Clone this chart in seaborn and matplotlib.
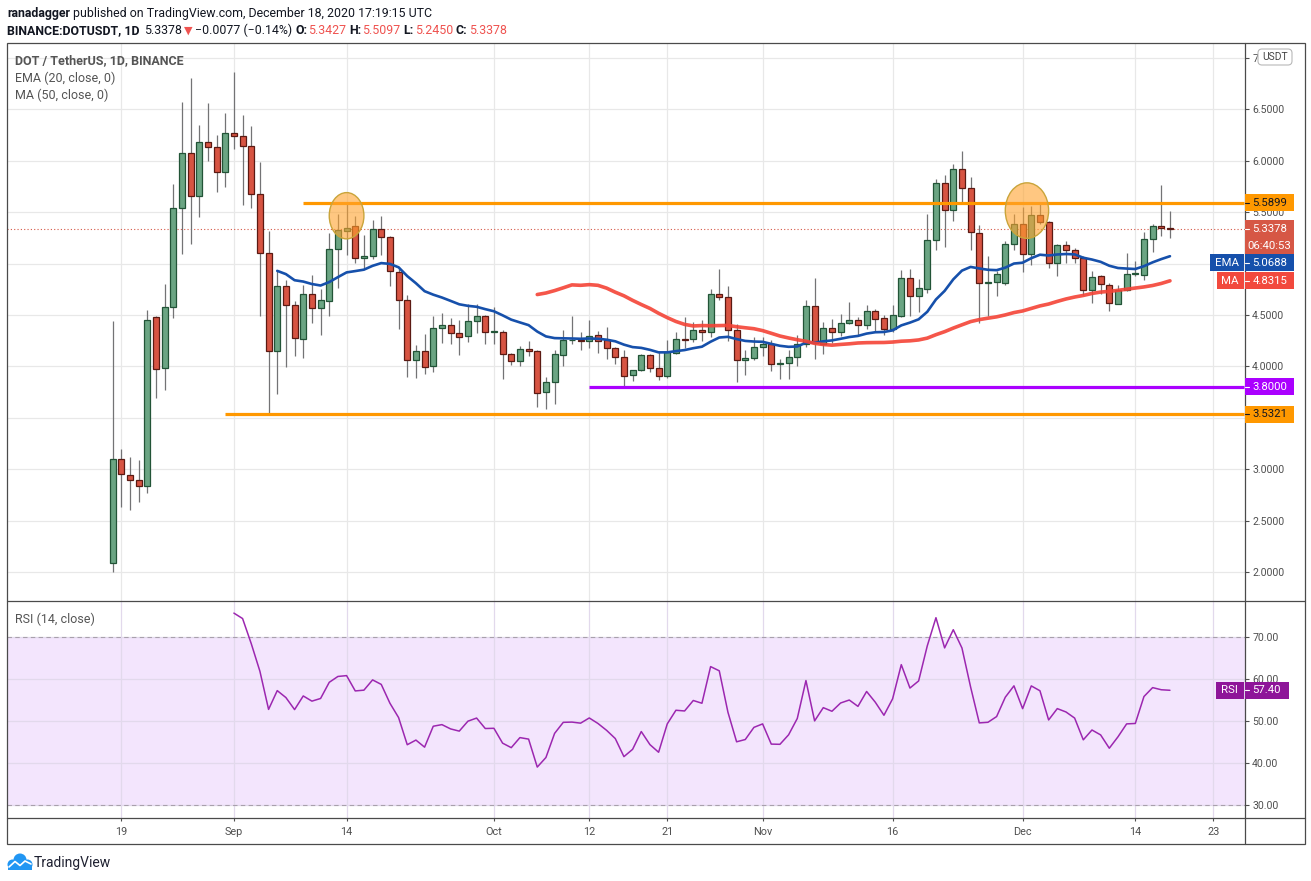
import matplotlib
matplotlib.use("Agg")
import matplotlib.pyplot as plt
from matplotlib.patches import Rectangle, Ellipse, FancyBboxPatch, Circle
import seaborn as sns
import pandas as pd
import numpy as np

# ---- data (DOT/USDT daily, Binance) ----
dates = pd.date_range("2020-08-18", "2020-12-18", freq="D")

opens = [2.086, 3.098, 2.94, 2.89, 2.835, 4.478, 3.982, 4.575, 5.538, 6.072,
         5.654, 6.179, 6.131, 5.888, 6.267, 6.238, 6.14, 5.674, 5.10, 4.147,
         4.779, 4.595, 4.264, 4.702, 4.572, 4.637, 5.138, 5.318, 5.363, 5.05,
         5.07, 5.334, 5.256, 4.914, 4.65, 4.064, 4.151, 4.005, 4.376, 4.406,
         4.327, 4.298, 4.445, 4.494, 4.337, 4.337, 4.122, 4.054, 4.171, 4.151,
         3.748, 3.851, 4.107, 4.252, 4.255, 4.243, 4.307, 4.252, 4.175, 4.094,
         3.913, 3.961, 4.107, 3.98, 3.903, 4.126, 4.262, 4.262, 4.35, 4.33,
         4.699, 4.67, 4.35, 4.058, 4.078, 4.184, 4.215, 4.02, 4.036, 4.095,
         4.222, 4.584, 4.222, 4.369, 4.336, 4.418, 4.447, 4.398, 4.535, 4.467,
         4.359, 4.493, 4.858, 4.682, 4.75, 5.23, 5.788, 5.524, 5.915, 5.739,
         5.299, 4.815, 4.818, 4.812, 5.192, 5.38, 5.088, 5.468, 5.406, 5.006,
         5.182, 5.136, 5.055, 4.747, 4.877, 4.795, 4.607, 4.747, 4.90, 4.893,
         5.24, 5.364, 5.3427]
highs = [4.44, 3.198, 3.114, 3.09, 4.549, 4.49, 4.802, 5.774, 6.571, 6.80,
         6.348, 6.562, 6.25, 6.464, 6.863, 6.445, 6.338, 5.988, 5.317, 4.938,
         4.84, 4.64, 4.792, 4.89, 4.75, 5.295, 5.484, 5.581, 5.458, 5.278,
         5.425, 5.458, 5.27, 4.969, 4.692, 4.204, 4.318, 4.487, 4.523, 4.474,
         4.448, 4.611, 4.611, 4.503, 4.578, 4.357, 4.13, 4.197, 4.243, 4.16,
         3.90, 4.159, 4.353, 4.489, 4.33, 4.45, 4.343, 4.382, 4.184, 4.159,
         3.961, 4.117, 4.117, 4.142, 4.256, 4.333, 4.479, 4.43, 4.45, 4.748,
         4.945, 4.78, 4.411, 4.159, 4.282, 4.282, 4.261, 4.069, 4.157, 4.303,
         4.646, 4.861, 4.431, 4.457, 4.509, 4.623, 4.476, 4.597, 4.558, 4.499,
         4.597, 4.94, 4.95, 4.852, 5.478, 5.821, 5.86, 5.971, 6.095, 5.84,
         5.377, 5.078, 4.925, 5.218, 5.484, 5.549, 5.558, 5.575, 5.412, 5.192,
         5.218, 5.149, 5.071, 4.932, 4.893, 4.812, 4.795, 5.104, 5.023, 5.305,
         5.38, 5.763, 5.5097]
lows = [2.00, 2.637, 2.60, 2.676, 2.773, 3.697, 3.772, 4.475, 5.094, 5.194,
        5.457, 6.001, 5.70, 5.748, 6.118, 5.573, 5.544, 4.494, 3.535, 3.729,
        3.998, 4.105, 4.08, 4.426, 4.308, 4.49, 4.764, 5.083, 5.008, 4.943,
        5.04, 5.083, 4.78, 4.363, 3.894, 3.884, 3.927, 3.95, 4.226, 4.217,
        4.109, 4.236, 4.324, 4.217, 4.217, 3.875, 4.011, 4.002, 4.10, 3.60,
        3.589, 3.631, 4.006, 4.22, 4.162, 4.18, 4.126, 4.071, 4.019, 3.796,
        3.854, 3.955, 3.948, 3.864, 3.887, 4.117, 4.181, 4.233, 4.249, 4.282,
        4.644, 4.249, 3.845, 3.913, 4.058, 4.104, 3.954, 3.876, 3.876, 4.003,
        4.186, 4.072, 4.124, 4.232, 4.297, 4.414, 4.303, 4.365, 4.343, 4.303,
        4.33, 4.483, 4.493, 4.532, 4.711, 5.129, 5.165, 5.413, 5.602, 5.129,
        4.424, 4.49, 4.682, 4.79, 5.136, 4.919, 4.99, 5.38, 4.958, 4.877,
        5.006, 5.006, 4.698, 4.617, 4.708, 4.536, 4.604, 4.731, 4.877, 4.844,
        5.11, 5.266, 5.245]
closes = [3.098, 2.95, 2.893, 2.835, 4.449, 3.972, 4.575, 5.538, 6.072, 5.654,
          6.179, 6.131, 5.888, 6.267, 6.238, 6.14, 5.674, 5.10, 4.147, 4.779,
          4.595, 4.274, 4.702, 4.572, 4.65, 5.138, 5.324, 5.35, 5.05, 5.07,
          5.334, 5.256, 4.923, 4.65, 4.064, 4.151, 3.995, 4.376, 4.406, 4.327,
          4.288, 4.445, 4.494, 4.337, 4.34, 4.122, 4.054, 4.171, 4.151, 3.744,
          3.845, 4.117, 4.252, 4.255, 4.243, 4.298, 4.243, 4.175, 4.094, 3.903,
          3.961, 4.107, 3.98, 3.903, 4.136, 4.262, 4.256, 4.35, 4.33, 4.699,
          4.67, 4.35, 4.058, 4.078, 4.184, 4.214, 4.026, 4.024, 4.095, 4.222,
          4.584, 4.232, 4.369, 4.336, 4.418, 4.447, 4.398, 4.535, 4.457, 4.359,
          4.499, 4.858, 4.682, 4.76, 5.23, 5.788, 5.524, 5.915, 5.739, 5.308,
          4.809, 4.818, 4.90, 5.192, 5.38, 5.088, 5.468, 5.406, 5.006, 5.182,
          5.136, 5.055, 4.747, 4.873, 4.805, 4.617, 4.747, 4.90, 4.905, 5.24,
          5.364, 5.3427, 5.3378]

tick_dates = ["2020-08-19", "2020-09-01", "2020-09-14", "2020-10-01", "2020-10-12",
              "2020-10-21", "2020-11-01", "2020-11-16", "2020-12-01", "2020-12-14",
              "2020-12-23"]
tick_labels = ["19", "Sep", "14", "Oct", "12", "21", "Nov", "16", "Dec", "14", "23"]

# horizontal levels drawn by the author: (price, start date, colour)
levels = [(5.5899, "2020-09-09", "#FF9800"),
          (3.8000, "2020-10-12", "#AA00FF"),
          (3.5321, "2020-08-31", "#FF9800")]
level_text = ["#131722", "white", "#131722"]
# highlighted tops: (centre date, centre price, width in days, height in price)
highlights = [("2020-09-14", 5.465, 4.0, 0.45), ("2020-12-01 12:00", 5.515, 5.0, 0.54)]

ema_last, ma_last, rsi_last = 5.0688, 4.8315, 57.40
countdown = "06:40:53"
# price-scale labels hidden (or cut) by the tags in the reference
hidden_ticks = {5.0: "", 3.5: "", 7.0: "7"}

# ---- colours ----
GREEN, GREEN_EDGE = "#6BA583", "#225437"
RED, RED_EDGE = "#D75442", "#5B1A13"
WICK = "#737375"
EMA_C, MA_C, RSI_C = "#1650AB", "#F44336", "#9C27B0"
TXT = "#4F4F4F"

sns.set_theme(style="white")
plt.rcParams["font.family"] = ["Roboto", "DejaVu Sans"]

df = pd.DataFrame({"date": dates, "open": opens, "high": highs, "low": lows, "close": closes})
df["x"] = (df["date"] - dates[0]).dt.days


def xpos(d):
    return (pd.Timestamp(d) - dates[0]) / pd.Timedelta(days=1)


# indicators as defined in the chart legend
s = df["close"]
seed = s.copy()
seed.iloc[:19] = np.nan
seed.iloc[19] = s.iloc[:20].mean()
df["ema"] = seed.ewm(span=20, adjust=False).mean()
df["ma"] = s.rolling(50).mean()
delta = s.diff()
gain, loss = delta.clip(lower=0), -delta.clip(upper=0)
g, l = gain.copy(), loss.copy()
g.iloc[:14] = np.nan
l.iloc[:14] = np.nan
g.iloc[14] = gain.iloc[1:15].mean()
l.iloc[14] = loss.iloc[1:15].mean()
avg_g = g.ewm(alpha=1 / 14, adjust=False).mean()
avg_l = l.ewm(alpha=1 / 14, adjust=False).mean()
df["rsi"] = 100 - 100 / (1 + avg_g / avg_l)

W, H = 1311, 881
fig = plt.figure(figsize=(W / 100, H / 100), dpi=100)
ax = fig.add_axes([7 / W, 1 - 601 / H, 1237.5 / W, 558 / H])
ax2 = fig.add_axes([7 / W, 1 - 817.5 / H, 1237.5 / W, 216.5 / H])
ov = fig.add_axes([0, 0, 1, 1], zorder=10)
ov.set_xlim(0, W)
ov.set_ylim(H, 0)
ov.axis("off")
ov.set_facecolor("none")

XMIN, XMAX = -12.18, 130.6
tick_x = [xpos(d) for d in tick_dates]


def price_fmt(v, pos):
    key = round(v, 2)
    if key in hidden_ticks:
        return hidden_ticks[key]
    return "%.4f" % v


# ---- price pane ----
ax.set_xlim(XMIN, XMAX)
ax.set_ylim(1.718, 7.145)
ax.set_axisbelow(True)
ax.set_xticks(tick_x)
ax.set_yticks(np.arange(2.0, 7.01, 0.5))
ax.yaxis.tick_right()
ax.yaxis.set_major_formatter(matplotlib.ticker.FuncFormatter(price_fmt))
ax.tick_params(axis="x", length=0, labelbottom=False)
ax.tick_params(axis="y", right=True, length=3, width=0.8, color=TXT, pad=2.5,
               labelsize=7.6, labelcolor=TXT)
ax.grid(True, color="#E8E8E8", lw=0.9)
for sp in ax.spines.values():
    sp.set_visible(False)

up = df["close"] >= df["open"]
lo = np.minimum(df["open"], df["close"])
hgt = np.maximum((df["close"] - df["open"]).abs(), 0.008)
ax.vlines(df["x"], df["low"], df["high"], color=WICK, lw=0.9, zorder=2)
ax.bar(df["x"][up], hgt[up], bottom=lo[up], width=0.7, color=GREEN,
       edgecolor=GREEN_EDGE, linewidth=0.9, zorder=3)
ax.bar(df["x"][~up], hgt[~up], bottom=lo[~up], width=0.7, color=RED,
       edgecolor=RED_EDGE, linewidth=0.9, zorder=3)

sns.lineplot(data=df.dropna(subset=["ema"]), x="x", y="ema", ax=ax, color=EMA_C,
             linewidth=1.9, zorder=4)
sns.lineplot(data=df.dropna(subset=["ma"]), x="x", y="ma", ax=ax, color=MA_C,
             linewidth=2.6, alpha=0.9, zorder=4)

for (p, start, col) in levels:
    ax.hlines(p, xpos(start), XMAX, color=col, lw=2.3, zorder=5)
ax.axhline(closes[-1], color="#D65745", lw=0.8, ls=(0, (1, 2)), zorder=1.5)

for (d, p, w, h) in highlights:
    ax.add_patch(Ellipse((xpos(d), p), w, h, facecolor=(1.0, 0.64, 0.18, 0.6),
                         edgecolor="#C9A43A", lw=1.0, zorder=6))
ax.set_xlabel("")
ax.set_ylabel("")

# ---- RSI pane ----
ax2.set_xlim(XMIN, XMAX)
ax2.set_ylim(27.1, 78.64)
ax2.set_axisbelow(True)
ax2.set_xticks(tick_x)
ax2.set_xticklabels(tick_labels)
ax2.set_yticks([30, 40, 50, 60, 70])
ax2.yaxis.tick_right()
ax2.yaxis.set_major_formatter(matplotlib.ticker.FormatStrFormatter("%.2f"))
ax2.tick_params(axis="y", right=True, length=3, width=0.8, color=TXT, pad=2.5,
                labelsize=7.6, labelcolor=TXT)
ax2.tick_params(axis="x", bottom=True, length=2.5, width=0.8, color=TXT, pad=4.5,
                labelsize=7.8, labelcolor=TXT)
ax2.grid(True, color="#E2D9EC", lw=0.9)
for sp in ax2.spines.values():
    sp.set_visible(False)
ax2.axhspan(30, 70, color="#F3E5FD", zorder=0.3, lw=0)
for lv in (30, 70):
    ax2.axhline(lv, color="#A8A0AC", lw=0.8, ls=(0, (4, 3)), zorder=1)
sns.lineplot(data=df.dropna(subset=["rsi"]), x="x", y="rsi", ax=ax2, color=RSI_C,
             linewidth=1.1, zorder=3)
ax2.set_xlabel("")
ax2.set_ylabel("")

# ---- frame ----
FR = "#4A4A4A"
ov.add_patch(Rectangle((7, 43), 1298, 801, fill=False, ec=FR, lw=0.9))
ov.plot([1244.5, 1244.5], [43, 844], color=FR, lw=0.9)
ov.plot([7, 1305], [601, 601], color=FR, lw=0.9)
ov.plot([7, 1305], [817.5, 817.5], color=FR, lw=0.9)


def py(a, v):
    return H - a.transData.transform((0, v))[1]


def tag(y, text, fc, tc="white", x0=1245, x1=1294, h=17, dash=True, center=False):
    ov.add_patch(Rectangle((x0, y - h / 2), x1 - x0, h, fc=fc, ec="none", zorder=5))
    if dash:
        ov.plot([x0, x0 + 4], [y, y], color=tc, lw=0.8, zorder=6)
    if center:
        ov.text((x0 + x1) / 2, y, text, color=tc, va="center", ha="center",
                fontsize=8.2, zorder=6)
    else:
        ov.text(x0 + 7.5, y, text, color=tc, va="center", ha="left", fontsize=8.2, zorder=6)


# right-axis price tags
ov.add_patch(FancyBboxPatch((1258, 49), 34, 16, boxstyle="round,pad=0,rounding_size=4",
                            fc="white", ec="#B8B8B8", lw=0.8, zorder=5))
ov.text(1275, 57.5, "USDT", ha="center", va="center", fontsize=7.4, color="#444444", zorder=6)
for (p, start, col), tc in zip(levels, level_text):
    tag(py(ax, p), "%.4f" % p, col, tc)
y_last = py(ax, closes[-1])
tag(y_last, "%.4f" % closes[-1], "#D65745")
tag(y_last + 17, countdown, "#D65745", dash=False, center=True)
y_ema = max(py(ax, ema_last), y_last + 17 + 17)
tag(y_ema, "EMA", EMA_C, x0=1210, x1=1243.5, dash=False, center=True)
tag(y_ema, "%.4f" % ema_last, EMA_C)
y_ma = py(ax, ma_last)
tag(y_ma, "MA", "#F2493D", x0=1217, x1=1243.5, dash=False, center=True)
tag(y_ma, "%.4f" % ma_last, "#F2493D")
y_rsi = py(ax2, rsi_last)
tag(y_rsi, "RSI", "#8E1599", x0=1216, x1=1243.5, dash=False, center=True)
tag(y_rsi, "%.2f" % rsi_last, "#8E1599", x1=1289)

# pane legends
ov.text(15, 61, "DOT / TetherUS, 1D, BINANCE", fontsize=9, color="#555555",
        fontweight="semibold", va="center")
ov.text(15, 78, "EMA (20, close, 0)", fontsize=9, color="#555555", va="center")
ov.text(15, 95, "MA (50, close, 0)", fontsize=9, color="#555555", va="center")
ov.text(15, 619, "RSI (14, close)", fontsize=9, color="#555555", va="center")

# header
rend = fig.canvas.get_renderer()


def runs(y, parts, x=7):
    for txt, gap, kw in parts:
        style = {"fontsize": 8.9, "color": "#131722"}
        style.update(kw)
        t = ov.text(x, y, txt, va="center", ha="left", **style)
        x += t.get_window_extent(renderer=rend).width + gap


RED_T = "#EF5350"
runs(13.5, [("ranadagger", 3.0, {"fontweight": "bold"}),
            ("published on TradingView.com, December 18, 2020 17:19:15 UTC", 0, {})])
runs(30.5, [("BINANCE:DOTUSDT, 1D", 5, {"fontweight": "bold"}),
            ("%.4f" % closes[-1], 1.5, {}),
            ("\u25BC", 2.5, {"color": RED_T, "family": ["DejaVu Sans"], "fontsize": 8}),
            ("\u22120.0077 (\u22120.14%)", 3.0, {}),
            ("O:", 1, {"fontweight": "bold"}), ("%.4f" % opens[-1], 3.0, {"color": RED_T}),
            ("H:", 1, {"fontweight": "bold"}), ("%.4f" % highs[-1], 3.0, {"color": RED_T}),
            ("L:", 1, {"fontweight": "bold"}), ("%.4f" % lows[-1], 3.0, {"color": RED_T}),
            ("C:", 1, {"fontweight": "bold"}), ("%.4f" % closes[-1], 0, {"color": RED_T})])

# footer logo
for cx, cy, r in [(12.5, 864.5, 5), (20, 860, 6.5), (27.5, 864.5, 5)]:
    ov.add_patch(Circle((cx, cy), r, fc="#2196F3", ec="none", zorder=5))
ov.add_patch(Rectangle((8, 863), 24, 6.5, fc="#2196F3", ec="none", zorder=5))
ov.plot([9, 15, 20, 25, 31], [867, 861.5, 865.5, 861, 864], color="white", lw=1.2, zorder=6)
ov.text(34, 863, "TradingView", fontsize=10, color="#1E2030", va="center", ha="left")

fig.savefig("out.png", dpi=100)
plt.close(fig)
